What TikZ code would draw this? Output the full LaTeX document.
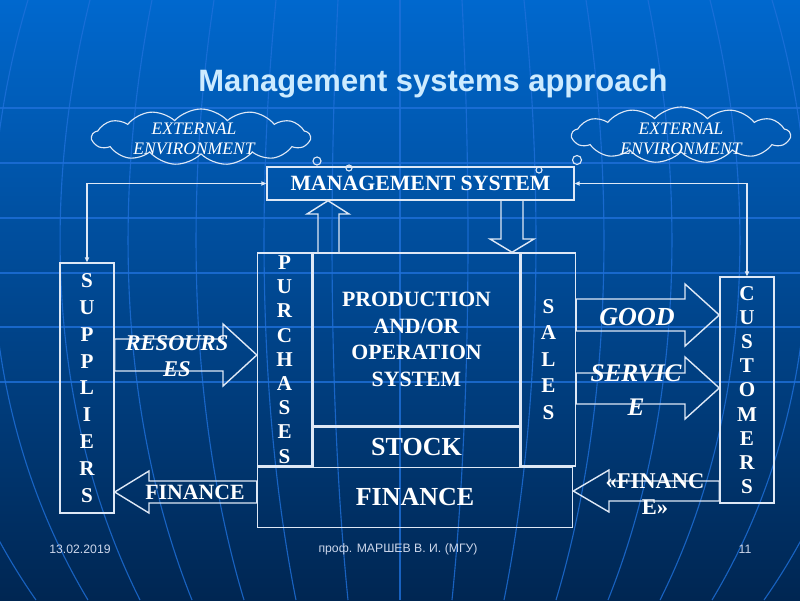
\documentclass[tikz,border=0pt]{standalone}
\usepackage{fontspec}
\setmainfont{Liberation Serif}
\newfontfamily\headfont{Liberation Sans}
\usetikzlibrary{arrows.meta,positioning,calc,shapes.symbols}
\definecolor{slidetop}{RGB}{0,104,206}
\definecolor{slidemid}{RGB}{10,74,150}
\definecolor{slidebot}{RGB}{0,38,82}
\definecolor{gridblue}{RGB}{30,112,218}
\definecolor{chalk}{RGB}{222,232,246}
\definecolor{titleblue}{RGB}{205,235,255}
\definecolor{footgrey}{RGB}{205,215,235}

\begin{document}
\begin{tikzpicture}[x=0.025cm,y=-0.025cm,
  every node/.style={text=white,align=center},
  box/.style={draw=chalk,line width=1pt,inner sep=0pt},
  fat/.style={draw=chalk,line width=1pt},
  link/.style={draw=chalk,line width=0.8pt,{Triangle[length=3.5pt,width=3pt]}-{Triangle[length=3.5pt,width=3pt]}},
  bub/.style={circle,draw=chalk,line width=0.8pt,inner sep=0pt},
  env/.style={cloud,draw=chalk,line width=0.8pt,cloud puffs=13,cloud puff arc=95,aspect=3.8,minimum width=5.45cm,minimum height=1.4cm,inner sep=0pt},
  envtxt/.style={font=\fontsize{12.5}{14}\selectfont\itshape},
  letters/.style={font=\fontsize{15}{#1}\selectfont\bfseries},
  bigtxt/.style={font=\fontsize{18.5}{20}\selectfont\bfseries},
  midtxt/.style={font=\fontsize{15.5}{19}\selectfont\bfseries},
  gridline/.style={draw=gridblue,line width=0.8pt,opacity=0.8}]
\useasboundingbox (0,0) rectangle (800,600);
\shade[top color=slidetop,middle color=slidemid,bottom color=slidebot] (0,0) rectangle (800,600);
\foreach \y in {108,163,218,273,327,382} \draw[gridline] (0,\y) -- (800,\y);
\foreach \k in {-7,...,7} \draw[gridline] ({400+\k*62},0) .. controls ({400+\k*72},200) and ({400+\k*70},420) .. ({400+\k*52},600);

\node[font=\headfont\bfseries\fontsize{22}{26}\selectfont,text=titleblue] (title) at (433,84) {Management systems approach};

\node[env] (envl) at (201,137) {};
\node[env] (envr) at (681,135) {};
\node[envtxt] (envlt) at (194,139) {EXTERNAL\\ENVIRONMENT};
\node[envtxt] (envrt) at (681,139) {EXTERNAL\\ENVIRONMENT};
\node[bub,minimum size=0.2cm] (bl1) at (317,161) {};
\node[bub,minimum size=0.15cm] (bl2) at (349,168) {};
\node[bub,minimum size=0.225cm] (br1) at (577,160) {};
\node[bub,minimum size=0.15cm] (br2) at (539,170) {};

\node[box,midtxt,minimum width=7.675cm,minimum height=0.825cm] (mgmt) at (420.5,183.5) {MANAGEMENT SYSTEM};
\node[box,midtxt,minimum width=5.175cm,minimum height=4.325cm] (prod) at (416.5,339.5) {PRODUCTION\\AND/OR\\OPERATION\\SYSTEM};
\node[box,letters=17.2,minimum width=1.35cm,minimum height=5.325cm,anchor=north east] (pur) at (prod.north west) {P\\U\\R\\C\\H\\A\\S\\E\\S};
\node[box,letters=18.8,minimum width=1.35cm,minimum height=5.325cm,anchor=north west] (sal) at (prod.north east) {S\\A\\L\\E\\S};
\node[box,bigtxt,minimum width=5.175cm,minimum height=1cm,below=0pt of prod] (stock) {STOCK};
\node[box,bigtxt,minimum width=7.875cm,minimum height=1.5cm,anchor=north west] (fin) at (pur.south west) {FINANCE};
\node[box,letters=19.1,minimum width=1.35cm,minimum height=6.25cm] (sup) at (87,388) {S\\U\\P\\P\\L\\I\\E\\R\\S};
\node[box,letters=17.2,minimum width=1.35cm,minimum height=5.65cm] (cus) at (747,390) {C\\U\\S\\T\\O\\M\\E\\R\\S};

\draw[link] (mgmt.west) -| (sup.north);
\draw[link] (mgmt.east) -| (cus.north);

\draw[fat] (318,253) -- (318,214) -- (307,214) -- (mgmt.south -| 328,0) -- (349,214) -- (339,214) -- (339,253);
\draw[fat] (501,200) -- (501,239) -- (490,239) -- (prod.north -| 512,0) -- (534,239) -- (523,239) -- (523,200);
\draw[fat] (sup.east |- 0,339) -- (223,339) -- (223,324) -- (pur.west |- 0,355) -- (223,386) -- (223,371) -- (sup.east |- 0,371) -- cycle;
\draw[fat] (fin.west |- 0,481) -- (149,481) -- (149,471) -- (sup.east |- 0,492) -- (149,513) -- (149,503) -- (fin.west |- 0,503) -- cycle;
\draw[fat] (sal.east |- 0,299) -- (685,299) -- (685,284) -- (cus.west |- 0,315) -- (685,346) -- (685,331) -- (sal.east |- 0,331) -- cycle;
\draw[fat] (sal.east |- 0,373) -- (685,373) -- (685,357) -- (cus.west |- 0,388) -- (685,419) -- (685,404) -- (sal.east |- 0,404) -- cycle;
\draw[fat] (cus.west |- 0,481) -- (609,481) -- (609,470) -- (fin.east |- 0,491) -- (609,512) -- (609,501) -- (cus.west |- 0,501) -- cycle;

\node[font=\fontsize{16}{18.5}\selectfont\bfseries\itshape] (res) at (177,356) {RESOURS\\ES};
\node[midtxt] (pay) at (195,492) {FINANCE};
\node[font=\fontsize{18.5}{20}\selectfont\bfseries\itshape] (good) at (637,317) {GOOD};
\node[font=\fontsize{18}{24}\selectfont\bfseries\itshape] (serv) at (636,390) {SERVIC\\E};
\node[font=\fontsize{16}{18.5}\selectfont\bfseries] (rev) at (655,494) {«FINANC\\E»};

\node[font=\headfont\fontsize{8.7}{10}\selectfont,text=footgrey] (date) at (80,549) {13.02.2019};
\node[font=\headfont\fontsize{8.7}{10}\selectfont,text=footgrey] (auth) at (398,549) {проф. МАРШЕВ В. И. (МГУ)};
\node[font=\headfont\fontsize{8.7}{10}\selectfont,text=footgrey] (page) at (745,549) {11};
\end{tikzpicture}
\end{document}
